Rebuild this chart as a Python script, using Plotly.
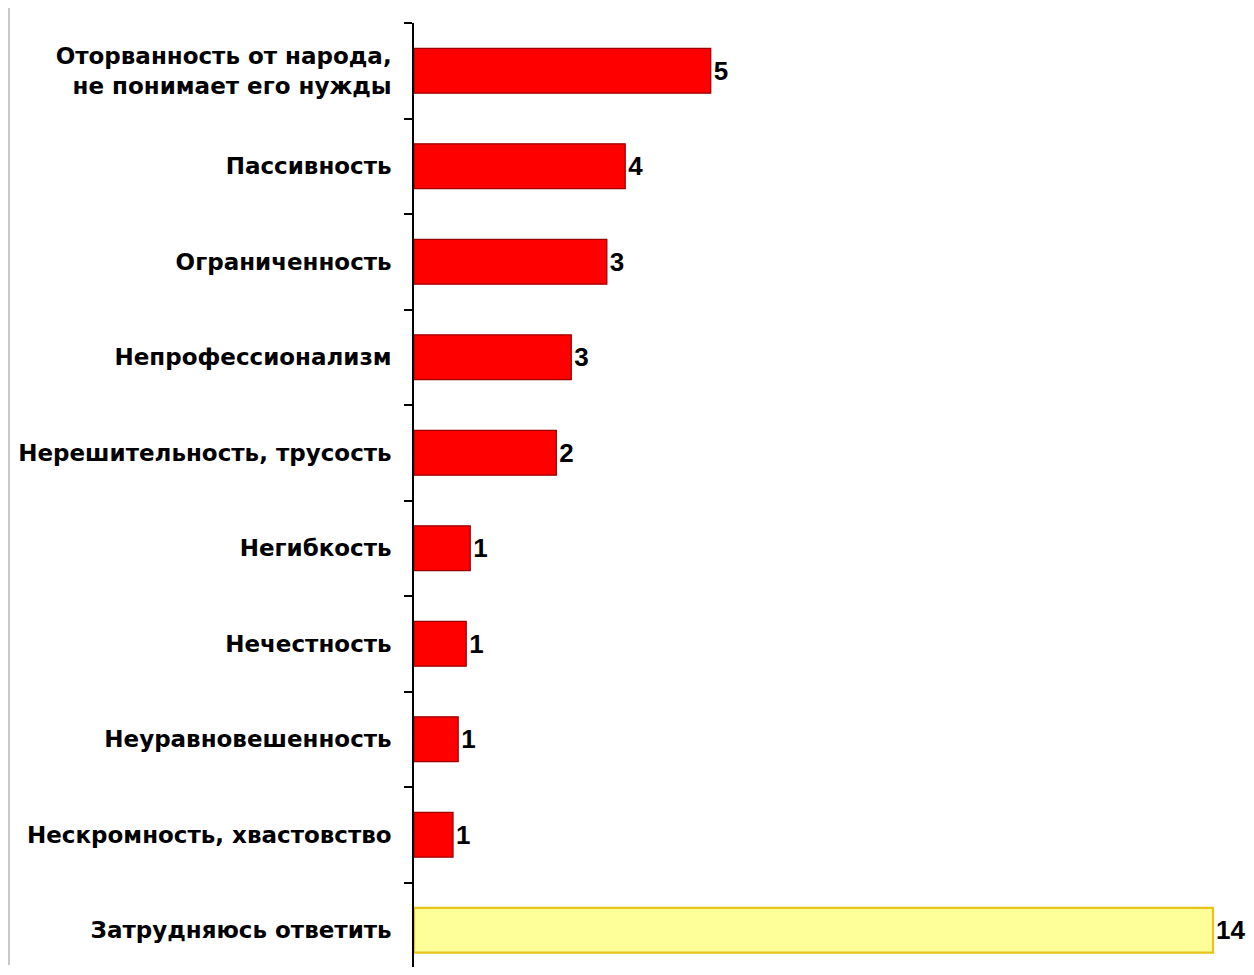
import plotly.graph_objects as go

categories = [
    "Оторванность от народа,<br> не понимает его нужды",
    "Пассивность",
    "Ограниченность",
    "Непрофессионализм",
    "Нерешительность, трусость",
    "Негибкость",
    "Нечестность",
    "Неуравновешенность",
    "Нескромность, хвастовство",
    "Затрудняюсь ответить",
]
values = [5.17, 3.68, 3.36, 2.74, 2.48, 0.98, 0.91, 0.77, 0.68, 13.92]
value_labels = ["5", "4", "3", "3", "2", "1", "1", "1", "1", "14"]

fill_colors = ["#FF0000"] * 9 + ["#FFFF99"]
line_colors = ["#9B0000"] * 9 + ["#E8C31A"]
line_widths = [1.2] * 9 + [2.2]

# page body has an 8px margin; keep figure inside the 1254x975 window
W, H = 1238, 959
left, top = 406, 15
plot_w = W - left
plot_h = H - top
px_per_unit = 57.4
xmax = plot_w / px_per_unit
slot_px = 95.5
ybottom = -0.5 + plot_h / slot_px

fig = go.Figure()
fig.add_trace(go.Bar(
    x=values,
    y=categories,
    orientation="h",
    width=0.47,
    marker=dict(color=fill_colors, line=dict(color=line_colors, width=line_widths)),
    text=value_labels,
    textposition="outside",
    textfont=dict(family="Liberation Sans", size=26, color="black", weight="bold"),
    constraintext="none",
    cliponaxis=False,
    hoverinfo="skip",
))

gx = (1 - left) / plot_w
fig.update_layout(
    width=W, height=H,
    margin=dict(l=left, r=0, t=top, b=0),
    paper_bgcolor="white",
    plot_bgcolor="white",
    showlegend=False,
    xaxis=dict(range=[0, xmax], visible=False, fixedrange=True),
    yaxis=dict(
        type="category",
        range=[ybottom, -0.5],
        tickson="boundaries",
        ticks="outside",
        ticklen=8,
        tickwidth=1.5,
        tickcolor="black",
        showline=True,
        linecolor="black",
        linewidth=1.5,
        showgrid=False,
        ticklabelstandoff=16,
        tickfont=dict(family="DejaVu Sans", size=23, color="black", weight="bold"),
    ),
    shapes=[
        dict(type="line", xref="paper", yref="paper", x0=gx, x1=gx,
             y0=1 + top / plot_h, y1=1 - (957 - top) / plot_h,
             line=dict(color="#C8C8C8", width=2)),
    ],
)

fig.write_html("out.html")
